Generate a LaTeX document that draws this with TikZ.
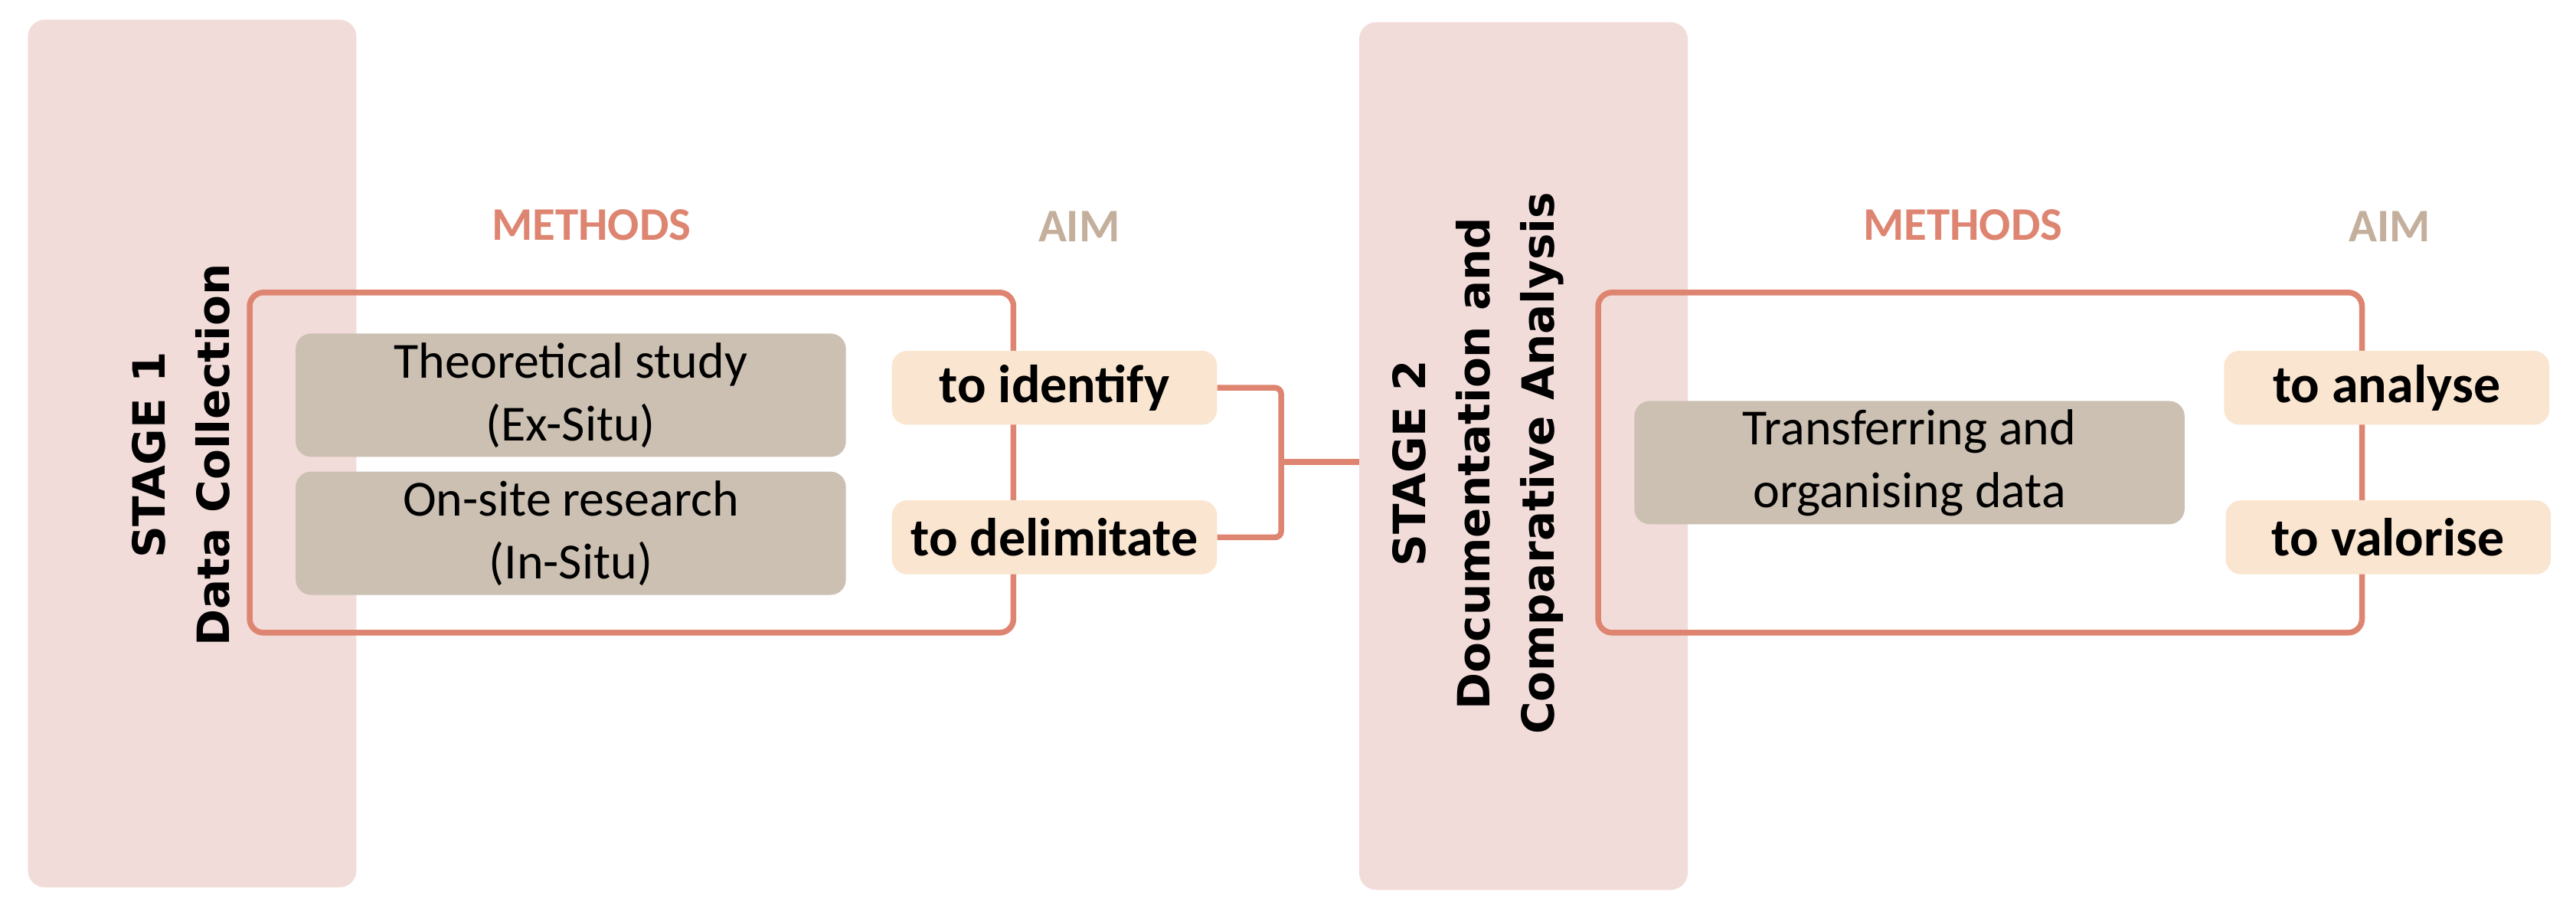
\documentclass[tikz,border=0pt]{standalone}
\usepackage{fontspec}
\setmainfont{Carlito}
\newfontfamily\stagefont{DejaVu Sans}
\definecolor{stagebg}{HTML}{F2DCD9}
\definecolor{line}{HTML}{DE8571}
\definecolor{meth}{HTML}{CBC0B2}
\definecolor{aimbg}{HTML}{F9E5D0}
\definecolor{aimtxt}{HTML}{C3AF9B}
\begin{document}
\begin{tikzpicture}[x=2.145pt,y=-2.145pt,
  stage/.style={draw=none,fill=stagebg,rounded corners=22pt,minimum width=200*2.145pt,minimum height=528*2.145pt},
  frame/.style={draw=line,line width=7.5pt,rounded corners=18pt,minimum width=465*2.145pt,minimum height=207*2.145pt},
  meth/.style={fill=meth,rounded corners=20pt,minimum width=335*2.145pt,minimum height=75*2.145pt,align=center,font=\fontsize{66}{82}\selectfont,inner sep=0pt},
  aim/.style={fill=aimbg,rounded corners=20pt,minimum width=198*2.145pt,minimum height=45*2.145pt,font=\bfseries\fontsize{70}{80}\selectfont,inner sep=0pt},
  head/.style={font=\bfseries\fontsize{61}{70}\selectfont},
  stt/.style={rotate=90,align=center,font=\stagefont\bfseries\fontsize{58}{84}\selectfont},
  conn/.style={draw=line,line width=7.5pt}]
\useasboundingbox (0,0) rectangle (1568.3,557.6);
\node[stage] (s1) at (117,276) {};
\node[stage] (s2) at (927.5,277.5) {};
\node[frame] (f1) at (384.5,281.5) {};
\node[frame] (f2) at (1205.5,281.5) {};
\node[stt] (s1t) at (110,277) {STAGE 1\\Data Collection};
\node[stt] (s2t) at (900,282) {STAGE 2\\Documentation and\\Comparative Analysis};
\node[head,text=line] (m1) at (360,137) {METHODS};
\node[head,text=aimtxt] (a1) at (657,138) {AIM};
\node[head,text=line] (m2) at (1195,137) {METHODS};
\node[head,text=aimtxt] (a2) at (1455,138) {AIM};
\node[meth] (t1) at (347.5,240.5) {Theoretical study\\(Ex-Situ)};
\node[meth] (t2) at (347.5,324.5) {On-site research\\(In-Situ)};
\node[meth] (t3) at (1162.5,281.5) {Transferring and\\organising data};
\node[aim] (id) at (642,236) {to identify};
\node[aim] (de) at (642,327) {to delimitate};
\node[aim] (an) at (1453,236) {to analyse};
\node[aim] (va) at (1454,327) {to valorise};
\coordinate (j) at (780,281);
\draw[conn,rounded corners=8pt] (id.east) -| (j) |- (de.east);
\draw[conn] (j) -- (s2.west |- j);
\end{tikzpicture}
\end{document}
